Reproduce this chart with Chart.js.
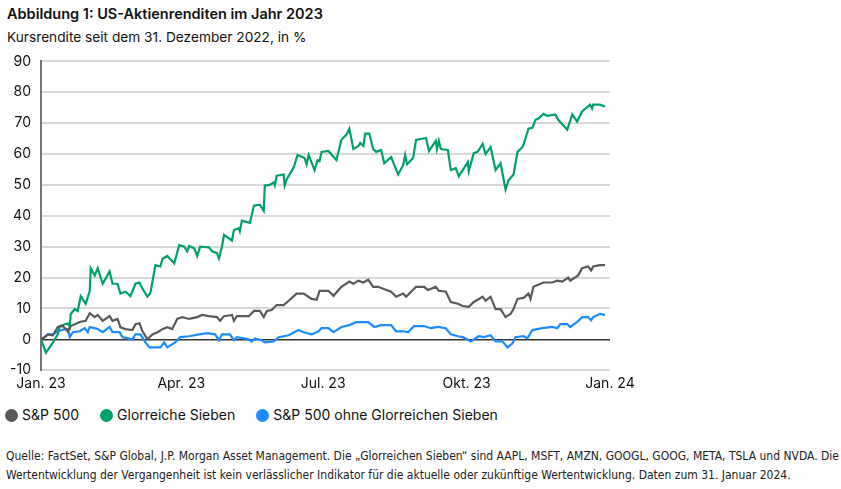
<!DOCTYPE html>
<html><head><meta charset="utf-8">
<script src="https://cdn.jsdelivr.net/npm/chart.js@4.4.1/dist/chart.umd.min.js"></script>
<style>
html,body{margin:0;padding:0;background:#fff;width:841px;height:489px;overflow:hidden;}
#title{position:absolute;left:7px;top:5px;font-family:Inter,"Noto Sans",sans-serif;font-weight:600;font-size:14.5px;color:#111;}
#sub{position:absolute;left:7px;top:29px;font-family:Inter,"Noto Sans",sans-serif;font-size:13.7px;color:#111;}
#wrap{position:absolute;left:0;top:43px;width:841px;height:354px;}
#legend{position:absolute;left:5px;top:404px;font-family:Inter,"Noto Sans",sans-serif;font-size:14px;color:#111;white-space:nowrap;}
#legend span.item{display:inline-block;margin-right:21px;vertical-align:middle;}
#legend span.dot{display:inline-block;width:13px;height:13px;border-radius:50%;margin-right:4px;vertical-align:-2px;}
#foot{position:absolute;left:6px;top:447px;width:835px;font-family:"Liberation Sans Narrow","DejaVu Sans Condensed",sans-serif;font-size:12px;line-height:19px;color:#222;}
</style></head><body>
<div id="title">Abbildung 1: US-Aktienrenditen im Jahr 2023</div>
<div id="sub">Kursrendite seit dem 31. Dezember 2022, in %</div>
<div id="wrap"><canvas id="c"></canvas></div>
<div id="legend"></div>
<div id="foot">Quelle: FactSet, S&amp;P Global, J.P. Morgan Asset Management. Die „Glorreichen Sieben“ sind AAPL, MSFT, AMZN, GOOGL, GOOG, META, TSLA und NVDA. Die<br>Wertentwicklung der Vergangenheit ist kein verlässlicher Indikator für die aktuelle oder zukünftige Wertentwicklung. Daten zum 31. Januar 2024.</div>
<script>
// Days since 31 Dec 2022
const tickDays = [0, 90, 181, 273, 365];
const tickLabels = ["Jan. 23", "Apr. 23", "Jul. 23", "Okt. 23", "Jan. 24"];
const seriesNames = ["S&P 500", "Glorreiche Sieben", "S&P 500 ohne Glorreichen Sieben"];

const spDays = [0,2.6,4.5,7.7,10.8,14,17.2,19.1,24.9,28.7,31.3,34.5,36.4,39.6,44,45.9,49.1,51,54.2,58.7,60.6,63.2,65.1,68.3,71.5,74.7,77.9,81,84.2,87.4,90.6,95.1,100.2,103.4,107.8,112.9,114.9,117.4,122.5,123.8,125.7,133.4,136.6,140.4,142.9,144.9,148,151.2,155.7,158.9,164,168.5,173.6,176.8,178.7,184.4,187.6,192.7,197.8,200.4,203.6,206.8,209.9,213.1,216.3,219.5,224.6,227.8,232.3,234.2,237.4,240.6,245.7,248.2,253.3,255.2,259.7,262.9,267.4,270.6,274.4,277.6,283.3,285.2,288.4,291.6,294.8,298,301.2,303.1,305.7,309.5,312.7,314,315.9,322.3,328,331.2,334.4,338.2,339.5,344.6,347.1,351,352.9,354.2,358.6,361.8];
const spVals = [0,0.7,1.6,1.3,4,4.3,2.6,4.3,5.6,6,8.5,7.2,7.9,6,7.5,6,6.6,3.9,3.3,3,4.9,5.2,2.6,0,1.6,2.3,3.3,3.9,3.3,6.6,7.2,6.6,7.2,7.9,7.5,7.2,6,7.5,7.9,6,7.5,7.5,9.2,9.2,7.2,9.2,9.5,11.1,11.1,12.5,14.8,14.8,13.1,12.8,15.7,15.7,14.1,17,18.7,18,19,18.4,19.3,17,17,16.4,15.4,13.8,14.8,13.8,15.4,17,17,16,17,15.7,15.4,12.1,11.5,10.8,10.5,12.1,13.8,12.5,13.8,9.8,9.8,7.2,8.2,9.8,13.1,13.4,14.8,13.1,17,18.4,18.4,19,18.7,20,19,20.7,23,23.6,22.3,23.6,24,24];

const m7Days = [0,3.2,7.7,10.8,12.1,17.2,18.5,19.1,21.7,23.6,25.5,26.8,28.7,31.3,31.9,34.5,36.4,39.6,44,45.9,49.1,51,54.2,57.4,60.6,63.2,65.1,68.3,70.2,73.4,76.6,77.9,81,85.5,88.7,91.9,93.8,95.1,98.3,100.2,102.1,107.8,109.8,112.9,114.2,116.1,117.4,122.5,123.8,127,127.6,128.9,134,136.6,140.4,142.9,143.6,146.8,149.3,150,151.2,155.7,156.3,157.6,162.1,164.6,169.1,170.4,171.7,175.5,177.4,178.7,180,184.4,189.5,192.7,195.9,197.8,200.4,203.6,204.8,206.8,208,210.6,213.1,215,218.2,220.2,224.6,229.1,232.3,233.6,234.8,238.7,240.6,247,248.9,253.3,254,255.2,256.5,261,262.9,266.1,268,273.8,274.4,277.6,280.1,283.3,285.2,288.4,291.6,294.8,298,299.9,303.1,305.7,308.9,309.5,312.7,315.2,317.2,319.1,322.3,324.8,329.9,331.8,337.6,340.8,343.9,347.1,352.2,353.5,354.2,358.6,361.8];
const m7Vals = [0,-4.3,-1,1.6,4.3,5.2,4,8.2,9.8,9.2,14,13,11.5,15.7,23,20.7,23,18,22,18,18,14.8,15.4,14,18,18.4,16.4,13.8,15,24,23.6,26,27,24.6,30.5,30,28.5,30.2,29.5,27,30,29.8,28.5,27.9,26.2,30,33.8,32,35.4,36,35,38.4,37.7,43.3,43.6,41.6,49.8,50,50.8,49.8,53,53.4,49.8,51.8,55.7,59.7,58.7,56.7,59.7,54.8,58,57.7,60.7,61,58,64.6,66.2,68.2,61.6,62.6,63.6,62.6,66.6,66.6,61.6,60.7,61.3,57,59,53.4,56.4,59.7,56.7,58.7,64.6,65.2,61,64.3,61.6,64.3,61.6,61.3,54.8,55.4,52.8,57.4,54.4,60.3,60.7,63.3,60,62.3,54.8,57,48.5,51.5,53.4,60.7,62.3,63,68.2,68.5,71.1,71.5,73,72.4,72.8,71.1,67.9,72.8,70.5,73.8,76,74.8,76,76,75.4];

const exDays = [0,4.5,7.7,10.8,15.3,17.2,18.5,20.4,24.9,28.1,30,31.3,36.4,39.6,44,45.9,50.4,52.3,58.7,60.6,63.8,67,69.6,73.4,76.6,79.1,81,86.1,89.3,95.1,101.5,106.6,111.7,114.2,116.1,121.2,123.8,125.7,133.4,135.3,137.2,141.7,143.6,149.3,152.5,158.9,165.3,168.5,173.6,178,180,184.4,187.6,192.7,197.8,202.3,209.9,213.8,218.2,224.6,227.8,232.9,235.5,239.3,245.7,250.1,254.6,259.7,262.9,267.4,270.6,274.4,275.7,280.8,284,288.4,291.6,296.1,299.3,302.5,304.4,309.5,312,315.2,321.6,328,331.2,333.1,337.6,339.5,344.6,347.1,351,352.9,354.2,358.6,361.8];
const exVals = [0,1.6,1.6,2.6,3.3,3.3,0.7,2.3,2.6,3.6,2.3,4,3.3,2.3,4,2.3,2.3,0.7,0,1.6,1.6,-1,-2.6,-2.6,-2.6,-1,-2.6,-1,0.7,1,1.6,2,1.6,-0.3,1.6,1.6,-0.3,0.7,0,-0.7,0.3,-0.3,-1,-0.7,0.7,1.3,3,2.3,1.6,2.6,3.6,3.6,2.3,4,4.6,5.6,5.6,4,4.6,4.6,2.6,2.6,2.3,4.3,4.3,3.6,4,3.6,1.6,1,0.7,-0.3,-0.7,1,0.7,1.3,-0.7,-0.7,-2.6,-1.3,0.7,1,0.3,3,3.6,4,3.6,4.9,4.9,4,5.9,7.2,7.2,6.2,7.2,8.2,7.9];

const colors = ["#58595b", "#00a06b", "#1b8cff"];
function pts(d, v){ return d.map((x,i)=>({x:x, y:v[i]})); }

const chart = new Chart(document.getElementById('c'), {
  type: 'line',
  data: { datasets: [
    {label: seriesNames[0], data: pts(spDays, spVals), borderColor: colors[0], backgroundColor: colors[0]},
    {label: seriesNames[1], data: pts(m7Days, m7Vals), borderColor: colors[1], backgroundColor: colors[1]},
    {label: seriesNames[2], data: pts(exDays, exVals), borderColor: colors[2], backgroundColor: colors[2]}
  ]},
  options: {
    responsive: true, maintainAspectRatio: false, animation: false,
    elements: { line: { borderWidth: 2.2, tension: 0 }, point: { radius: 0 } },
    layout: { padding: { top: 4, left: 0, right: 231, bottom: 0 } },
    plugins: { tooltip: { enabled: false }, legend: { display: false } },
    scales: {
      x: { type: 'linear', min: 0, max: 365,
        afterBuildTicks: (ax) => { ax.ticks = tickDays.map(v => ({value: v})); },
        ticks: { autoSkip: false, maxRotation: 0, padding: 5, color: '#111', font: { family: 'Inter', size: 14 },
          callback: (v) => { const i = tickDays.indexOf(v); return i >= 0 ? tickLabels[i] : ''; } },
        grid: { display: false, drawTicks: false }, border: { display: false } },
      y: { min: -10, max: 90,
        ticks: { stepSize: 10, padding: 10, color: '#111', font: { family: 'Inter', size: 14 } },
        grid: { drawTicks: false, color: (c) => c.tick && c.tick.value === 0 ? '#333' : '#d9d9d9',
                lineWidth: (c) => c.tick && c.tick.value === 0 ? 1.5 : 2 },
        border: { display: true, color: '#777', width: 2 } }
    }
  }
});

// legend built from the chart's datasets
const lg = document.getElementById('legend');
chart.data.datasets.forEach(ds => {
  const it = document.createElement('span'); it.className = 'item';
  const d = document.createElement('span'); d.className = 'dot'; d.style.background = ds.borderColor;
  it.appendChild(d); it.appendChild(document.createTextNode(ds.label));
  lg.appendChild(it);
});
</script>
</body></html>
